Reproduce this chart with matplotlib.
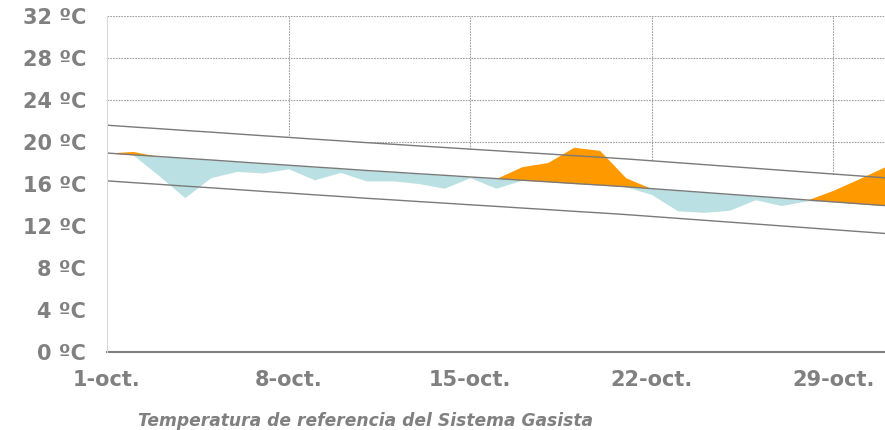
import numpy as np
import matplotlib.pyplot as plt

# daily values, 1-31 October
days = list(range(1, 32))
actual = [18.95, 19.1, 16.8, 14.7, 16.6, 17.2, 17.05, 17.45, 16.4, 17.1,
          16.3, 16.3, 16.05, 15.6, 16.6, 15.6, 17.65, 18.05, 19.5, 19.2,
          16.6, 15.0, 13.45, 13.3, 13.5, 14.5, 13.95, 14.4, 15.4, 16.5, 17.65]
normal = [18.95, 18.78, 18.62, 18.45, 18.29, 18.12, 17.95, 17.79, 17.62, 17.46,
          17.29, 17.14, 16.98, 16.83, 16.67, 16.52, 16.36, 16.21, 16.05, 15.9,
          15.74, 15.56, 15.38, 15.2, 15.02, 14.84, 14.66, 14.48, 14.3, 14.12, 13.94]
upper = [21.6, 21.43, 21.27, 21.1, 20.94, 20.77, 20.6, 20.44, 20.27, 20.11,
         19.94, 19.79, 19.63, 19.48, 19.32, 19.17, 19.01, 18.86, 18.7, 18.55,
         18.39, 18.21, 18.03, 17.85, 17.67, 17.49, 17.31, 17.13, 16.95, 16.77, 16.59]
lower = [16.3, 16.13, 15.97, 15.8, 15.64, 15.47, 15.3, 15.14, 14.97, 14.81,
         14.64, 14.49, 14.33, 14.18, 14.02, 13.87, 13.71, 13.56, 13.4, 13.25,
         13.09, 12.91, 12.73, 12.55, 12.37, 12.19, 12.01, 11.83, 11.65, 11.47, 11.29]
yticks = [0, 4, 8, 12, 16, 20, 24, 28, 32]
xticks = [1, 8, 15, 22, 29]
xlabels = ["1-oct.", "8-oct.", "15-oct.", "22-oct.", "29-oct."]

x = np.array(days)
act = np.array(actual)
nor = np.array(normal)

fig = plt.figure(figsize=(8.85, 4.3), dpi=100)
ax = fig.add_axes([0.1209, 0.1814, 0.8791, 0.7814])
ax.set_xlim(1, 31)
ax.set_ylim(0, 32)

gray = "#808080"

# grid, then white area up to the upper band hides it
for t in yticks[1:]:
    ax.axhline(t, color="#a0a0a0", lw=0.8, ls=(0, (1.5, 1)), zorder=0)
for t in xticks[1:]:
    ax.axvline(t, color="#a0a0a0", lw=0.8, ls=(0, (1.5, 1)), zorder=0)
ax.fill_between(x, 0, upper, color="white", lw=0, zorder=1)

# below / above normal
ax.fill_between(x, nor, np.minimum(act, nor), color="#bbe0e3", lw=0, zorder=2)
ax.fill_between(x, nor, np.maximum(act, nor), color="#ff9900", lw=0, zorder=2)

ax.plot(x, upper, color="#7a7a7a", lw=1.0, zorder=3)
ax.plot(x, normal, color="#7a7a7a", lw=1.0, zorder=3)
ax.plot(x, lower, color="#7a7a7a", lw=1.0, zorder=3)

for s in ["top", "right"]:
    ax.spines[s].set_visible(False)
ax.spines["left"].set_color("#d9d9d9")
ax.spines["left"].set_zorder(4)
ax.spines["bottom"].set_color(gray)
ax.spines["bottom"].set_linewidth(1.5)

ax.set_yticks(yticks)
ax.set_yticklabels([f"{t} ºC" for t in yticks])
ax.set_xticks(xticks)
ax.set_xticklabels(xlabels)
ax.tick_params(length=0, labelsize=15, labelcolor=gray)
for lab in ax.get_xticklabels() + ax.get_yticklabels():
    lab.set_fontweight("bold")
ax.tick_params(axis="y", pad=15)
ax.tick_params(axis="x", pad=13)

fig.text(0.156, 0.021, "Temperatura de referencia del Sistema Gasista",
         fontsize=12.3, fontweight="bold", fontstyle="italic", color=gray,
         ha="left", va="center")

fig.savefig("out.png", dpi=100)
